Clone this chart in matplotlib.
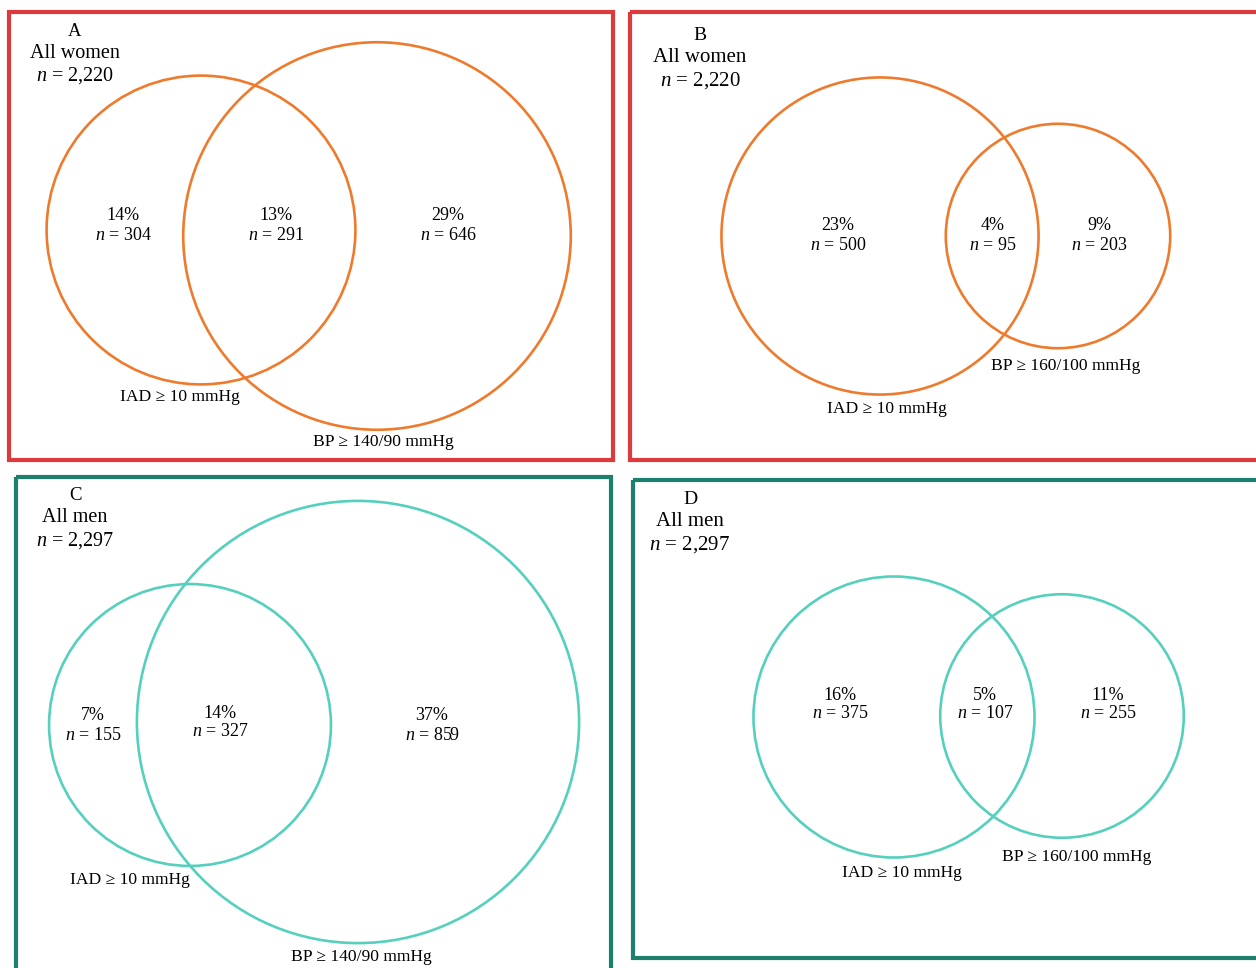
import numpy as np
import matplotlib
matplotlib.use('Agg')
import matplotlib.pyplot as plt
from matplotlib.patches import Circle, Rectangle

plt.rcParams['font.family'] = ['Liberation Serif', 'DejaVu Serif']
plt.rcParams['mathtext.fontset'] = 'custom'
plt.rcParams['mathtext.rm'] = 'Liberation Serif'
plt.rcParams['mathtext.it'] = 'Liberation Serif:italic'

# data
panels = ['A', 'B', 'C', 'D']
groups = ['All women', 'All women', 'All men', 'All men']
totals = [2220, 2220, 2297, 2297]
iad_labels = ['IAD ≥ 10 mmHg'] * 4
bp_labels = ['BP ≥ 140/90 mmHg', 'BP ≥ 160/100 mmHg',
             'BP ≥ 140/90 mmHg', 'BP ≥ 160/100 mmHg']
iad_only = [304, 500, 155, 375]
both = [291, 95, 327, 107]
bp_only = [646, 203, 859, 255]

red = '#dc3a3c'
green = '#1f7f6d'
orange = '#ee7b2d'
teal = '#55d0bc'

# layout, in pixels (y down)
boxes = [(9, 12, 613, 460), (630, 12, 1262, 460),
         (16, 477, 611, 975), (633, 480, 1262, 958)]
box_cols = [red, red, green, green]
circ_cols = [orange, orange, teal, teal]
head_xy = [(75, 31), (700, 36), (75, 496), (690, 500)]
head_size = [14.5, 15, 14.5, 15]
scale = [6.33, 6.5, 6.42, 6.4]
iad_c = [(201, 230), (880, 236), (190, 725), (894, 717)]
bp_c = [(377, 236), (1058, 236), (358, 722), (1062, 716)]
txt_x = [(123, 276, 448), (838, 993, 1099), (93, 220, 432), (840, 985, 1108)]
txt_y = [216, 226, 716, 695]
mid_dy = [0, 0, -3, 0]
iad_lab_xy = [(180, 397), (887, 409), (130, 880), (902, 873)]
bp_lab_xy = [(383, 442), (1066, 366), (361, 957), (1077, 857)]

fig = plt.figure(figsize=(12.56, 9.68), dpi=100)
ax = fig.add_axes([0, 0, 1, 1])
ax.set_xlim(0, 1256)
ax.set_ylim(968, 0)
ax.axis('off')

for i in range(4):
    x0, y0, x1, y1 = boxes[i]
    ax.add_patch(Rectangle((x0, y0), x1 - x0, y1 - y0, fill=False,
                           edgecolor=box_cols[i], linewidth=3))

    hx, hy = head_xy[i]
    fs = head_size[i]
    ax.text(hx, hy, panels[i], ha='center', va='center', fontsize=fs - 1)
    ax.text(hx, hy + 22, groups[i], ha='center', va='center', fontsize=fs)
    ax.text(hx, hy + 45, r'$n$ = {:,}'.format(totals[i]), ha='center',
            va='center', fontsize=fs)

    r_iad = scale[i] * np.sqrt(iad_only[i] + both[i])
    r_bp = scale[i] * np.sqrt(bp_only[i] + both[i])
    ax.add_patch(Circle(iad_c[i], r_iad, fill=False, edgecolor=circ_cols[i], linewidth=1.9))
    ax.add_patch(Circle(bp_c[i], r_bp, fill=False, edgecolor=circ_cols[i], linewidth=1.9))

    counts = [iad_only[i], both[i], bp_only[i]]
    for j in range(3):
        pct = round(100 * counts[j] / totals[i])
        y = txt_y[i] + (mid_dy[i] if j == 1 else 0)
        ax.text(txt_x[i][j], y, '{}%'.format(pct), ha='center', va='center', fontsize=13)
        ax.text(txt_x[i][j], y + 19, r'$n$ = {}'.format(counts[j]), ha='center',
                va='center', fontsize=13)

    ax.text(*iad_lab_xy[i], iad_labels[i], ha='center', va='center', fontsize=12.6)
    ax.text(*bp_lab_xy[i], bp_labels[i], ha='center', va='center', fontsize=12.6)

fig.savefig('out.png', dpi=100)
